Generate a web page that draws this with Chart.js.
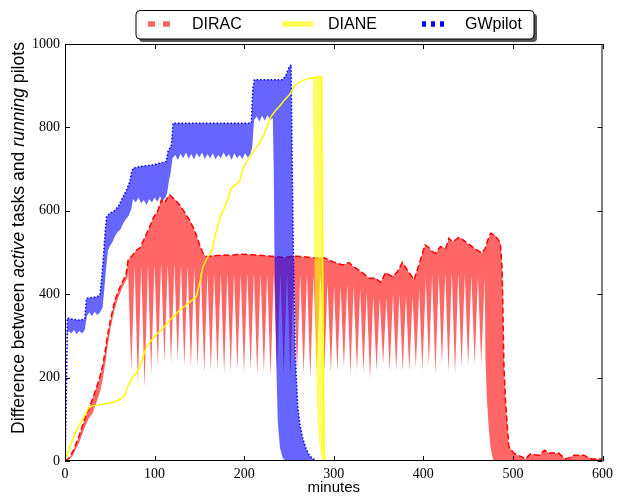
<!DOCTYPE html>
<html>
<head>
<meta charset="utf-8">
<script src="https://cdn.jsdelivr.net/npm/chart.js@4.4.1/dist/chart.umd.min.js"></script>
<style>
  html, body { margin: 0; padding: 0; background: #fff; }
  canvas { display: block; }
</style>
</head>
<body>
<canvas id="pilots" width="618" height="496"></canvas>
<script>
const minuteTicks = [0, 100, 200, 300, 400, 500, 600];
const countTicks  = [0, 200, 400, 600, 800, 1000];

// DIRAC, upper edge [minute, value]
const diracTop = [
  [0,0],[5,8],[10,28],[16,62],[21,95],[26,122],[31,150],[35,175],[39,202],[42,228],[44.5,259],
  [47,295],[50,330],[53,360],[55.7,386],[60,410],[65,434],[68,445],[70.5,482],[75,492],[80,506],
  [84,512],[87,526],[91,545],[94.6,562],[99,585],[104,602],[107.6,626],[111,618],[114,630],
  [117,638],[120,632],[124,624],[128,614],[133,598],[139,578],[143,560],[146.6,542],[150,520],
  [154,498],[158,490],[165,492],[175,494],[185,493],[195,496],[205,495],[215,494],[225,492],
  [235,490],[245,488],[255,491],[265,490],[275,488],[283,486],[288,488],[293,484],[298.7,478],
  [304,474],[310,470],[317,476],[322,466],[328,458],[334,448],[339.5,438],[347,438],[352.5,428],
  [358,452],[362,446],[365.5,442],[371,454],[376.6,476],[382,458],[386,446],[389.6,434],[395,470],
  [402,518],[406,512],[410,502],[413.7,498],[419,514],[425,510],[428.6,534],[432,526],[436,530],
  [439.7,537],[443,532],[447,526],[454.5,514],[460,506],[465.6,498],[469,510],[472,530],[475,546],
  [480.6,540],[486,522],[488,458],[490,226],[491.7,146],[493.5,90],[495.4,34],[501,19],[505,14],
  [510,10],[514,5],[519.5,17],[524,15],[529,14],[535.5,26],[540,19],[551,19],[558.5,5],[563,8],
  [568,14],[579,14],[583,10],[588,5],[594,5],[600,4]
];
// DIRAC, lower edge while ramping up
const diracRise = [
  [0,0],[8,10],[16,45],[21,75],[26,100],[31,115],[35,140],[39,165],[42,195],[45,235],[48,280],
  [51,320],[55,360],[60,395],[65,420],[70,440]
];
// DIRAC, the downward dips of the lower edge
const diracSpikeAt = [
  74,81.4,88.8,96.2,103.6,111,118.4,125.8,133.2,140.6,148,155.4,
  162.8,170.2,177.6,185,192.4,199.8,207.2,214.6,222,229.4,236.8,244.2,251.6,259,266.4,273.8,281.2,
  289.4,296.8,304,311.3,318.6,325.9,333.2,340.5,347.8,355.1,362.4,369.7,377,384.3,391.6,398.9,
  406.2,413.5,420.8,428.1,435.4,442.7,450,457.3,464.6
];
const diracSpikeLow = [
  216,184,177,208,228,236,232,240,228,224,224,212,
  216,220,208,214,222,210,218,206,212,204,216,208,202,212,206,198,214,
  216,212,216,224,208,216,212,196,216,232,216,216,216,216,224,216,228,208,232,212,208,224,228,
  232,232
];
// value where the white gap above each dip closes
const diracSpikeBase = [
  462,466,460,468,470,472,468,470,466,462,458,452,
  445,444,448,446,442,446,448,444,446,442,446,444,448,446,442,444,440,
  428,422,418,418,424,414,408,398,392,386,392,400,396,390,396,415,448,442,448,450,452,448,445,
  442,440
];
// DIRAC, lower edge after the last dip
const diracDrop = [
  [468.5,440],[469.4,242],[471,146],[473,80],[475,34],[477.6,4],[480,0],[600,0]
];

// DIANE
const dianeLine = [
  [0,2],[5.6,34],[10,60],[14.8,82],[20.4,102],[26,126],[30,132],[35.3,134],[42,136],[50,139],
  [55,142],[59.4,146],[63,150],[66.8,158],[70.5,182],[76,202],[80,212],[83.5,226],[87,250],
  [91,274],[95,285],[98.3,294],[103,305],[107.6,314],[112,325],[117,338],[122,348],[128,362],
  [133,370],[137.3,378],[142,386],[146.6,394],[150.3,426],[154,466],[159.5,490],[163.3,500],
  [168.9,550],[172.5,580],[176.2,598],[181,625],[185.6,654],[190,662],[194.8,670],[198.5,702],
  [203,718],[207.8,734],[212,748],[217,762],[222,782],[226,805],[230,826],[235.6,842],[240,852],
  [245,866],[250.5,878],[256,898],[261,908],[267,914],[272,917],[276.4,919],[281,920],[285.7,922],
  [286.5,920],[287.6,494],[288.7,175],[289.4,14],[290,0]
];
const dianeLow = [
  [276.4,919],[277.5,700],[278.3,494],[280,254],[282,94],[284,40],[285.7,14],[287,4],[290,0]
];

// GWpilot
const gwTop = [
  [0,0],[1.5,150],[2.6,343],[8,340],[15,338],[22,340],[24,390],[30,392],[36,394],[39,398],
  [41,440],[42.7,482],[44.5,540],[46.4,586],[50,594],[55,600],[59.4,610],[63,626],[66,638],
  [68.7,650],[72.4,670],[74,690],[76,702],[83.5,706],[90,708],[98,710],[105.8,714],[113,718],
  [115,742],[118.8,758],[120.6,810],[140,810],[160,810],[180,810],[208,810],[209.7,894],
  [211.5,914],[230,914],[243,914],[246.8,926],[250.5,946],[252.4,950],[253.5,734],[255,494],
  [257,254],[259.7,134],[262,90],[265.3,55],[269,30],[272.7,14],[276,6],[280,2]
];
const gwLow = [
  [0,0],[2.8,300],[4,312],[7,306],[10,314],[13,304],[16,312],[19,306],[22,314],[24.5,348],
  [27,356],[30,348],[33,358],[36,350],[39,356],[42,368],[44,415],[46,465],[48,505],[50,515],
  [53,525],[56,540],[59,550],[62,555],[65,570],[68,580],[71,588],[74,604],[76,628],[79,620],
  [82,632],[85,618],[88,626],[91,614],[94,628],[97,620],[100,632],[103,622],[106,634],[109,624],
  [112,632],[114,642],[116,672],[118,692],[120,726],[123,734],[126,722],[129,737],[132,726],
  [135,740],[138,725],[141,736],[144,723],[147,738],[150,728],[153,740],[156,724],[159,736],
  [162,726],[165,738],[168,723],[171,734],[174,726],[177,740],[180,728],[183,736],[186,722],
  [189,738],[192,726],[195,734],[198,724],[201,738],[204,728],[207,736],[209,752],[211,818],
  [214,826],[217,814],[220,828],[223,816],[226,830],[229,818],[232,822],[233,700],[233.8,494],
  [235.6,254],[237.5,94],[240,31],[243,7],[246,2],[250,0],[280,0]
];

const pts = arr => arr.map(p => ({ x: p[0], y: p[1] }));

// lower DIRAC edge: ramp, then a dip at every entry of diracSpikeAt, then the drop
function diracLower()
{
  const out = pts(diracRise);
  const half = 3.6;
  diracSpikeAt.forEach((t, i) => {
    out.push({ x: t - half, y: diracSpikeBase[i] });
    out.push({ x: t,        y: diracSpikeLow[i] });
    out.push({ x: t + half, y: diracSpikeBase[i] });
  });
  return out.concat(pts(diracDrop));
}

const legendItems = [
  { label: 'DIRAC',   color: 'rgba(255,0,0,0.6)', dash: [7, 8] },
  { label: 'DIANE',   color: '#ffff55',           dash: [] },
  { label: 'GWpilot', color: '#0000ff',           dash: [4, 5] }
];

const framePlugin = {
  id: 'frame',
  afterDraw(chart) {
    const ctx = chart.ctx, a = chart.chartArea;
    const xs = chart.scales.x, ys = chart.scales.y;
    ctx.save();
    ctx.strokeStyle = '#000';
    ctx.lineWidth = 1;
    ctx.strokeRect(a.left + 0.5, a.top + 0.5, a.right - a.left - 1, a.bottom - a.top - 1);

    // inward ticks on all four sides
    ctx.beginPath();
    minuteTicks.forEach(v => {
      const px = Math.round(xs.getPixelForValue(v)) + 0.5;
      ctx.moveTo(px, a.bottom); ctx.lineTo(px, a.bottom - 5);
      ctx.moveTo(px, a.top);    ctx.lineTo(px, a.top + 5);
    });
    countTicks.forEach(v => {
      const py = Math.round(ys.getPixelForValue(v)) + 0.5;
      ctx.moveTo(a.left, py);  ctx.lineTo(a.left + 5, py);
      ctx.moveTo(a.right, py); ctx.lineTo(a.right - 5, py);
    });
    ctx.stroke();

    // y title with two italic words
    const parts = [['Difference between ', ''], ['active', 'italic '], [' tasks and ', ''],
                   ['running', 'italic '], [' pilots', '']];
    const size = 17.6;
    let total = 0;
    parts.forEach(p => { ctx.font = p[1] + size + 'px "Liberation Sans"'; total += ctx.measureText(p[0]).width; });
    ctx.translate(19, 238);
    ctx.rotate(-Math.PI / 2);
    ctx.fillStyle = '#000';
    ctx.textBaseline = 'middle';
    let x = -total / 2;
    parts.forEach(p => {
      ctx.font = p[1] + size + 'px "Liberation Sans"';
      ctx.fillText(p[0], x, 0);
      x += ctx.measureText(p[0]).width;
    });
    ctx.restore();

    // x title
    ctx.save();
    ctx.font = '15px "Liberation Sans"';
    ctx.fillStyle = '#000';
    ctx.textAlign = 'center';
    ctx.textBaseline = 'middle';
    ctx.fillText('minutes', (a.left + a.right) / 2, 488);
    ctx.restore();

    // legend box with shadow
    ctx.save();
    const bx = 136, by = 10.5, bw = 398, bh = 28.5;
    ctx.fillStyle = '#555';
    ctx.beginPath(); ctx.roundRect(bx + 3, by + 3, bw, bh, 4); ctx.fill();
    ctx.fillStyle = '#fff';
    ctx.strokeStyle = '#000';
    ctx.lineWidth = 1;
    ctx.beginPath(); ctx.roundRect(bx, by, bw, bh, 4); ctx.fill(); ctx.stroke();
    const handleX = [148, 282, 422], textX = [192, 328, 465];
    ctx.font = '16px "Liberation Sans"';
    ctx.textBaseline = 'middle';
    legendItems.forEach((it, i) => {
      ctx.strokeStyle = it.color;
      ctx.lineWidth = 5.5;
      ctx.setLineDash(it.dash);
      ctx.beginPath();
      ctx.moveTo(handleX[i], 24); ctx.lineTo(handleX[i] + (i === 1 ? 31 : 22), 24);
      ctx.stroke();
      ctx.setLineDash([]);
      ctx.fillStyle = '#000';
      ctx.fillText(it.label, textX[i], 24.5);
    });
    ctx.restore();
  }
};

const tickFont = { family: 'Liberation Serif', size: 14 };

new Chart(document.getElementById('pilots'), {
  type: 'line',
  data: {
    datasets: [
      { label: 'DIANE', data: pts(dianeLine), borderColor: '#ffff00', borderWidth: 1.5,
        backgroundColor: 'rgba(255,255,0,0.6)', fill: '+1' },
      { label: 'DIANE low', data: pts(dianeLow), borderWidth: 0, fill: false },
      { label: 'GWpilot', data: pts(gwTop), borderColor: '#0000ff', borderWidth: 1.5, borderDash: [1.5, 2],
        backgroundColor: 'rgba(0,0,255,0.6)', fill: '+1' },
      { label: 'GWpilot low', data: pts(gwLow), borderWidth: 0, fill: false },
      { label: 'DIRAC', data: pts(diracTop), borderColor: '#ff0000', borderWidth: 1.5, borderDash: [6, 3],
        backgroundColor: 'rgba(255,0,0,0.6)', fill: '+1' },
      { label: 'DIRAC low', data: diracLower(), borderWidth: 0, fill: false }
    ]
  },
  options: {
    responsive: false,
    animation: false,
    devicePixelRatio: 1,
    elements: { point: { radius: 0 }, line: { tension: 0 } },
    layout: { padding: { top: 44, right: 14, left: 0, bottom: 0 } },
    plugins: { legend: { display: false }, tooltip: { enabled: false } },
    scales: {
      x: {
        type: 'linear', min: 0, max: 600,
        afterBuildTicks: s => { s.ticks = minuteTicks.map(v => ({ value: v })); },
        afterFit: s => { s.height = 35; },
        grid: { display: false, drawTicks: false },
        border: { display: false },
        ticks: { font: tickFont, color: '#000', padding: 5, maxRotation: 0, callback: v => String(v) }
      },
      y: {
        min: 0, max: 1000,
        afterBuildTicks: s => { s.ticks = countTicks.map(v => ({ value: v })); },
        afterFit: s => { s.width = 65; },
        grid: { display: false, drawTicks: false },
        border: { display: false },
        ticks: { font: tickFont, color: '#000', padding: 5, callback: v => String(v) }
      }
    }
  },
  plugins: [framePlugin]
});
</script>
</body>
</html>
